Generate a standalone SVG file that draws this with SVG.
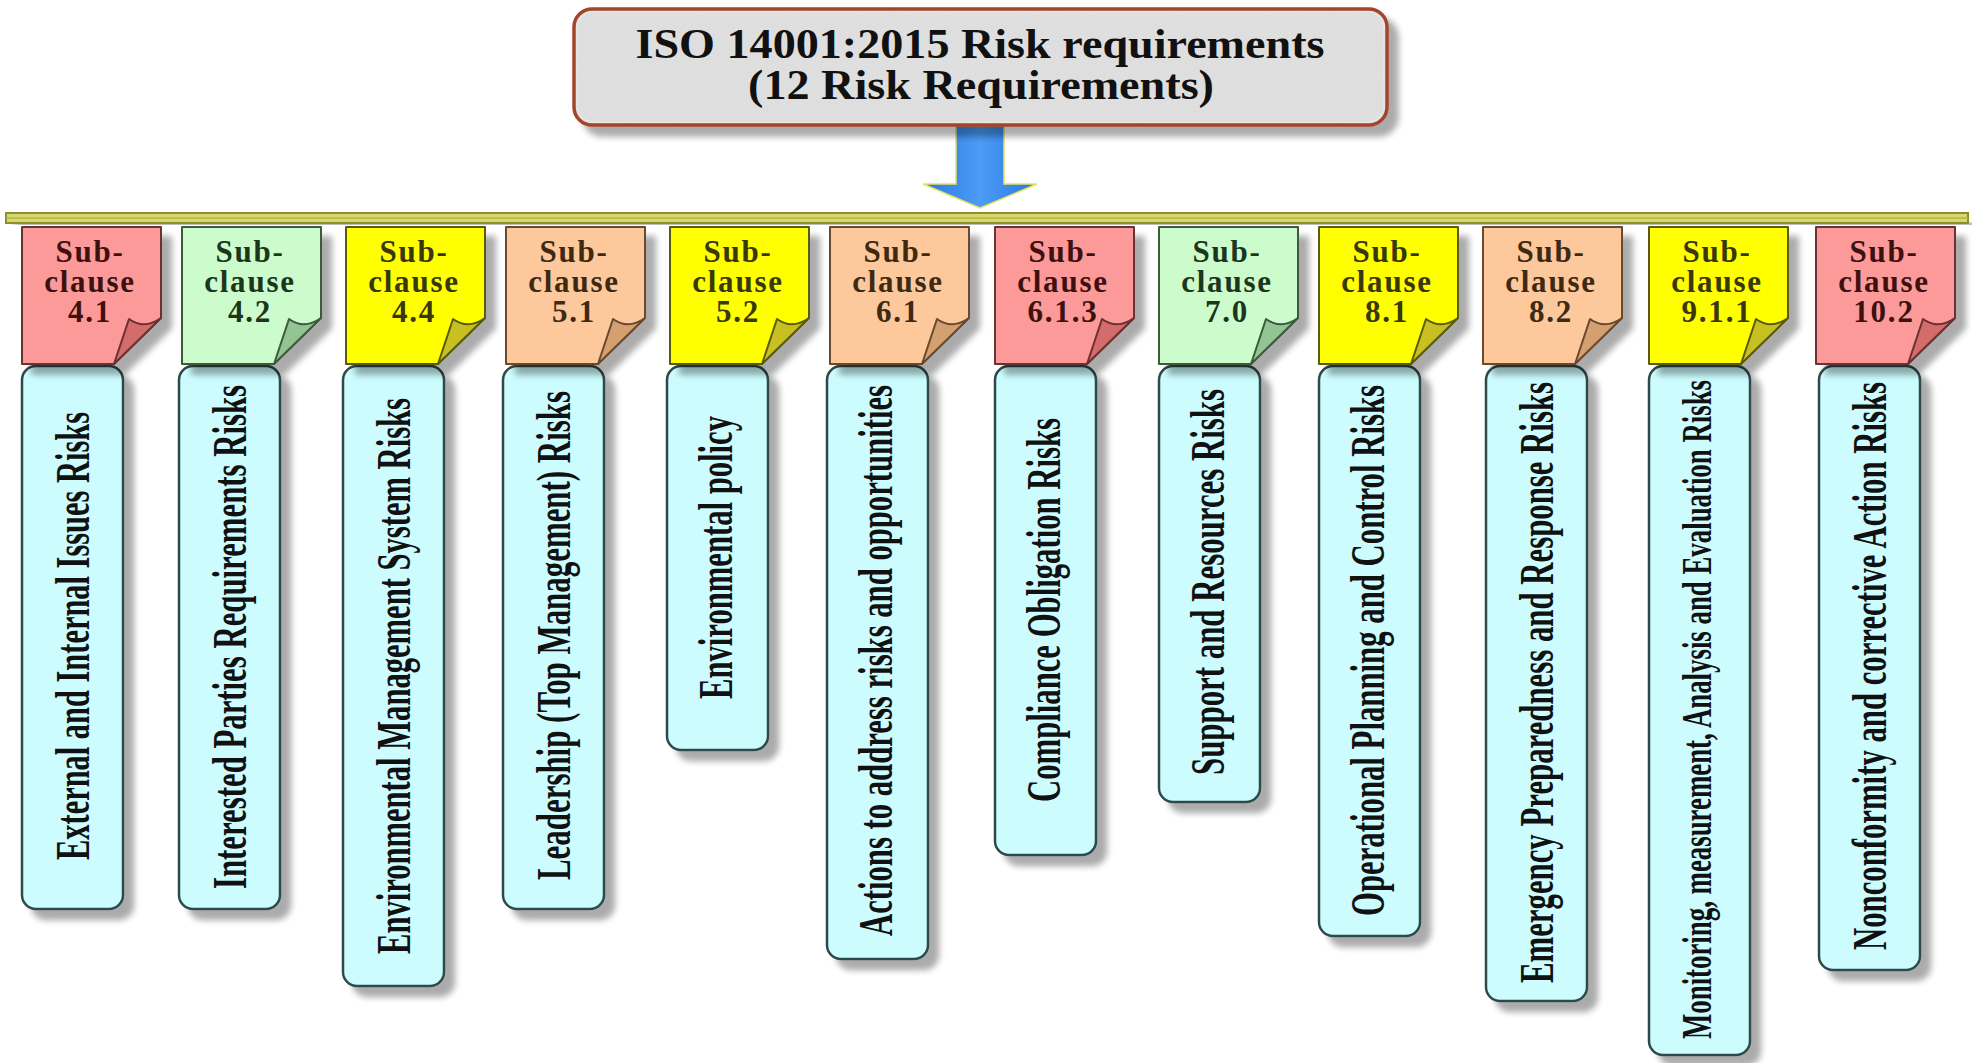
<svg xmlns="http://www.w3.org/2000/svg" width="1972" height="1063" viewBox="0 0 1972 1063">
<defs>
<style>
.t{font-family:"Liberation Serif","Times New Roman",serif;font-weight:bold}
.page,.fold{stroke-width:2;stroke-linejoin:round}
.r .page{fill:#fb9a98;stroke:#6a3030}
.r .fold{fill:#d46c6c;stroke:#6a3030}
.r .tabtxt{fill:#3e1010}
.g .page{fill:#ccfccc;stroke:#3e5a3e}
.g .fold{fill:#94c494;stroke:#3e5a3e}
.g .tabtxt{fill:#1c361c}
.y .page{fill:#ffff00;stroke:#5a5a10}
.y .fold{fill:#c8c020;stroke:#5a5a10}
.y .tabtxt{fill:#38380a}
.p .page{fill:#fcc89c;stroke:#6a4a2e}
.p .fold{fill:#d4a070;stroke:#6a4a2e}
.p .tabtxt{fill:#3e2a12}
.tabtxt{font-size:31px;letter-spacing:1.8px;text-anchor:middle}
.card{fill:#ccfcfe;stroke:#2f4a4a;stroke-width:2.5}
.ctxt{font-size:48px;fill:#111}
</style>
<filter id="sh" x="-20%" y="-10%" width="160%" height="130%">
<feGaussianBlur in="SourceAlpha" stdDeviation="3"/>
<feOffset dx="10" dy="10" result="o"/>
<feComponentTransfer in="o" result="s"><feFuncA type="linear" slope="0.33"/></feComponentTransfer>
<feMerge><feMergeNode in="s"/><feMergeNode in="SourceGraphic"/></feMerge>
</filter>
<filter id="grain" x="0" y="0" width="100%" height="100%">
<feTurbulence type="fractalNoise" baseFrequency="0.9" numOctaves="2" seed="3" result="n"/>
<feColorMatrix in="n" type="matrix" values="0 0 0 0 0.55  0 0 0 0 0.55  0 0 0 0 0.55  0 0 0 0.35 0" result="c"/>
<feComposite in="c" in2="SourceGraphic" operator="in" result="cc"/>
<feMerge><feMergeNode in="SourceGraphic"/><feMergeNode in="cc"/></feMerge>
</filter>
<linearGradient id="blue" x1="0" y1="0" x2="1" y2="0">
<stop offset="0" stop-color="#2a78e0"/>
<stop offset="0.5" stop-color="#4c9cf6"/>
<stop offset="1" stop-color="#2a78e0"/>
</linearGradient>
</defs>
<rect width="1972" height="1063" fill="#ffffff"/>

<g id="connectors">
<rect x="6" y="213" width="1962" height="10" fill="#d6d870" stroke="#8e8e2c" stroke-width="2" filter="url(#sh)"/>
<line x1="6" y1="218" x2="1968" y2="218" stroke="#b4b43c" stroke-width="1.5"/>
<g id="arrow">
<path d="M956,112 H1004 V184 H1037 L980,208 L923,184 H956 Z" fill="url(#blue)" stroke="#e8e060" stroke-width="1.5"/>
<rect x="956" y="112" width="48" height="4" fill="#f2eeb0"/>
<rect x="956" y="119" width="48" height="3" fill="#c8c890"/>
<rect x="956" y="124" width="48" height="3" fill="#8aa8a0"/>
</g>
</g>

<g id="title">
<rect x="574" y="9" width="813" height="116" rx="18" fill="#e4e4e4" stroke="#a3452c" stroke-width="3.5" filter="url(#sh)"/>
<rect x="578" y="13" width="805" height="108" rx="15" fill="#e4e4e4" filter="url(#grain)"/>
<text class="t" x="980" y="58" font-size="42" text-anchor="middle" textLength="689" lengthAdjust="spacingAndGlyphs" fill="#111">ISO 14001:2015 Risk requirements</text>
<text class="t" x="981" y="99" font-size="42" text-anchor="middle" textLength="466" lengthAdjust="spacingAndGlyphs" fill="#111">(12 Risk Requirements)</text>
</g>

<g id="n1" class="r">
<rect class="card" x="22" y="366" width="101" height="543" rx="14" filter="url(#sh)"/>
<g transform="translate(22,227)" filter="url(#sh)"><path class="page" d="M0,0 H139 V91 L92,137 H0 Z"/><path class="fold" d="M92,137 L107,92 Q122,103 139,91 Z"/></g>
<text class="t tabtxt" x="90" y="262">Sub-<tspan x="90" dy="30">clause</tspan><tspan x="90" dy="30">4.1</tspan></text>
<text class="t ctxt" transform="translate(89,860) rotate(-90)" textLength="448" lengthAdjust="spacingAndGlyphs">External and Internal Issues Risks</text>
</g>
<g id="n2" class="g">
<rect class="card" x="179" y="366" width="101" height="543" rx="14" filter="url(#sh)"/>
<g transform="translate(182,227)" filter="url(#sh)"><path class="page" d="M0,0 H139 V91 L92,137 H0 Z"/><path class="fold" d="M92,137 L107,92 Q122,103 139,91 Z"/></g>
<text class="t tabtxt" x="250" y="262">Sub-<tspan x="250" dy="30">clause</tspan><tspan x="250" dy="30">4.2</tspan></text>
<text class="t ctxt" transform="translate(246,889) rotate(-90)" textLength="504" lengthAdjust="spacingAndGlyphs">Interested Parties Requirements Risks</text>
</g>
<g id="n3" class="y">
<rect class="card" x="343" y="366" width="101" height="620" rx="14" filter="url(#sh)"/>
<g transform="translate(346,227)" filter="url(#sh)"><path class="page" d="M0,0 H139 V91 L92,137 H0 Z"/><path class="fold" d="M92,137 L107,92 Q122,103 139,91 Z"/></g>
<text class="t tabtxt" x="414" y="262">Sub-<tspan x="414" dy="30">clause</tspan><tspan x="414" dy="30">4.4</tspan></text>
<text class="t ctxt" transform="translate(410,954) rotate(-90)" textLength="556" lengthAdjust="spacingAndGlyphs">Environmental Management System Risks</text>
</g>
<g id="n4" class="p">
<rect class="card" x="503" y="366" width="101" height="543" rx="14" filter="url(#sh)"/>
<g transform="translate(506,227)" filter="url(#sh)"><path class="page" d="M0,0 H139 V91 L92,137 H0 Z"/><path class="fold" d="M92,137 L107,92 Q122,103 139,91 Z"/></g>
<text class="t tabtxt" x="574" y="262">Sub-<tspan x="574" dy="30">clause</tspan><tspan x="574" dy="30">5.1</tspan></text>
<text class="t ctxt" transform="translate(570,880) rotate(-90)" textLength="489" lengthAdjust="spacingAndGlyphs">Leadership (Top Management) Risks</text>
</g>
<g id="n5" class="y">
<rect class="card" x="667" y="366" width="101" height="384" rx="14" filter="url(#sh)"/>
<g transform="translate(670,227)" filter="url(#sh)"><path class="page" d="M0,0 H139 V91 L92,137 H0 Z"/><path class="fold" d="M92,137 L107,92 Q122,103 139,91 Z"/></g>
<text class="t tabtxt" x="738" y="262">Sub-<tspan x="738" dy="30">clause</tspan><tspan x="738" dy="30">5.2</tspan></text>
<text class="t ctxt" transform="translate(732,699) rotate(-90)" textLength="283" lengthAdjust="spacingAndGlyphs">Environmental policy</text>
</g>
<g id="n6" class="p">
<rect class="card" x="827" y="366" width="101" height="593" rx="14" filter="url(#sh)"/>
<g transform="translate(830,227)" filter="url(#sh)"><path class="page" d="M0,0 H139 V91 L92,137 H0 Z"/><path class="fold" d="M92,137 L107,92 Q122,103 139,91 Z"/></g>
<text class="t tabtxt" x="898" y="262">Sub-<tspan x="898" dy="30">clause</tspan><tspan x="898" dy="30">6.1</tspan></text>
<text class="t ctxt" transform="translate(892,936) rotate(-90)" textLength="551" lengthAdjust="spacingAndGlyphs">Actions to address risks and opportunities</text>
</g>
<g id="n7" class="r">
<rect class="card" x="995" y="366" width="101" height="489" rx="14" filter="url(#sh)"/>
<g transform="translate(995,227)" filter="url(#sh)"><path class="page" d="M0,0 H139 V91 L92,137 H0 Z"/><path class="fold" d="M92,137 L107,92 Q122,103 139,91 Z"/></g>
<text class="t tabtxt" x="1063" y="262">Sub-<tspan x="1063" dy="30">clause</tspan><tspan x="1063" dy="30">6.1.3</tspan></text>
<text class="t ctxt" transform="translate(1060,802) rotate(-90)" textLength="384" lengthAdjust="spacingAndGlyphs">Compliance Obligation Risks</text>
</g>
<g id="n8" class="g">
<rect class="card" x="1159" y="366" width="101" height="436" rx="14" filter="url(#sh)"/>
<g transform="translate(1159,227)" filter="url(#sh)"><path class="page" d="M0,0 H139 V91 L92,137 H0 Z"/><path class="fold" d="M92,137 L107,92 Q122,103 139,91 Z"/></g>
<text class="t tabtxt" x="1227" y="262">Sub-<tspan x="1227" dy="30">clause</tspan><tspan x="1227" dy="30">7.0</tspan></text>
<text class="t ctxt" transform="translate(1224,775) rotate(-90)" textLength="386" lengthAdjust="spacingAndGlyphs">Support and Resources Risks</text>
</g>
<g id="n9" class="y">
<rect class="card" x="1319" y="366" width="101" height="570" rx="14" filter="url(#sh)"/>
<g transform="translate(1319,227)" filter="url(#sh)"><path class="page" d="M0,0 H139 V91 L92,137 H0 Z"/><path class="fold" d="M92,137 L107,92 Q122,103 139,91 Z"/></g>
<text class="t tabtxt" x="1387" y="262">Sub-<tspan x="1387" dy="30">clause</tspan><tspan x="1387" dy="30">8.1</tspan></text>
<text class="t ctxt" transform="translate(1384,916) rotate(-90)" textLength="531" lengthAdjust="spacingAndGlyphs">Operational Planning and Control Risks</text>
</g>
<g id="n10" class="p">
<rect class="card" x="1486" y="366" width="101" height="635" rx="14" filter="url(#sh)"/>
<g transform="translate(1483,227)" filter="url(#sh)"><path class="page" d="M0,0 H139 V91 L92,137 H0 Z"/><path class="fold" d="M92,137 L107,92 Q122,103 139,91 Z"/></g>
<text class="t tabtxt" x="1551" y="262">Sub-<tspan x="1551" dy="30">clause</tspan><tspan x="1551" dy="30">8.2</tspan></text>
<text class="t ctxt" transform="translate(1553,983) rotate(-90)" textLength="601" lengthAdjust="spacingAndGlyphs">Emergency Preparedness and Response Risks</text>
</g>
<g id="n11" class="y">
<rect class="card" x="1649" y="366" width="101" height="689" rx="14" filter="url(#sh)"/>
<g transform="translate(1649,227)" filter="url(#sh)"><path class="page" d="M0,0 H139 V91 L92,137 H0 Z"/><path class="fold" d="M92,137 L107,92 Q122,103 139,91 Z"/></g>
<text class="t tabtxt" x="1717" y="262">Sub-<tspan x="1717" dy="30">clause</tspan><tspan x="1717" dy="30">9.1.1</tspan></text>
<text class="t ctxt" style="font-size:42px" transform="translate(1711,1039) rotate(-90)" textLength="659" lengthAdjust="spacingAndGlyphs">Monitoring, measurement, Analysis and Evaluation Risks</text>
</g>
<g id="n12" class="r">
<rect class="card" x="1819" y="366" width="101" height="604" rx="14" filter="url(#sh)"/>
<g transform="translate(1816,227)" filter="url(#sh)"><path class="page" d="M0,0 H139 V91 L92,137 H0 Z"/><path class="fold" d="M92,137 L107,92 Q122,103 139,91 Z"/></g>
<text class="t tabtxt" x="1884" y="262">Sub-<tspan x="1884" dy="30">clause</tspan><tspan x="1884" dy="30">10.2</tspan></text>
<text class="t ctxt" transform="translate(1886,950) rotate(-90)" textLength="568" lengthAdjust="spacingAndGlyphs">Nonconformity and corrective Action Risks</text>
</g>
</svg>
